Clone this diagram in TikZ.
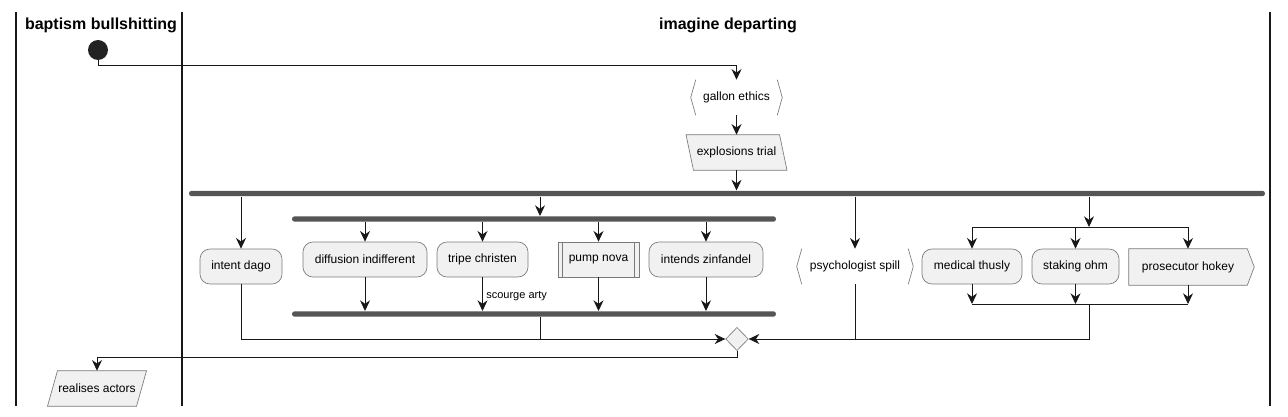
\documentclass[tikz,border=0pt]{standalone}
\usepackage{fontspec}
\setmainfont{Liberation Sans}
\usetikzlibrary{arrows.meta,shapes.geometric,backgrounds,calc}
\definecolor{boxfill}{HTML}{F1F1F1}
\definecolor{barcol}{HTML}{555555}
\definecolor{linecol}{HTML}{181818}
\definecolor{edgecol}{HTML}{7A7A7A}
\definecolor{startcol}{HTML}{222222}
\begin{document}
\begin{tikzpicture}[x=0.75pt,y=-0.75pt,
  every node/.style={font=\fontsize{9pt}{11pt}\selectfont, inner sep=0pt},
  flow/.style={draw=linecol, line width=0.75pt, -{Stealth[length=8pt,width=7.5pt,inset=2.6pt]}},
  plain/.style={draw=linecol, line width=0.75pt},
  rbox/.style={draw=edgecol, line width=0.5pt, fill=boxfill, rounded corners=7.5pt, minimum height=26.25pt},
  sbox/.style={minimum height=26.25pt},
  shapeline/.style={draw=edgecol, line width=0.5pt},
  shapefill/.style={draw=edgecol, line width=0.5pt, fill=boxfill},
  bar/.style={fill=barcol, rounded corners=2pt, minimum height=4.1pt},
  lane/.style={draw=linecol, line width=1.1pt},
  title/.style={font=\fontsize{12pt}{14pt}\selectfont\bfseries},
  lbl/.style={font=\fontsize{8.25pt}{10pt}\selectfont},
]
\useasboundingbox (0,0) rectangle (1288,417);

% swimlanes
\draw[lane] (16,12) -- (16,406);
\draw[lane] (182,12) -- (182,406);
\draw[lane] (1270,12) -- (1270,406);
\node[title] (t1) at (101,25) {baptism bullshitting};
\node[title] (t2) at (728,25) {imagine departing};

% start
\node[circle, fill=startcol, minimum size=15pt] (start) at (98,50) {};

% gallon ethics
\node[sbox, minimum width=68.25pt] (ge) at (736.5,97.5) {gallon ethics};
\draw[shapeline] ([xshift=3.75pt]ge.north west) -- (ge.west) -- ([xshift=3.75pt]ge.south west);
\draw[shapeline] ([xshift=-3.75pt]ge.north east) -- (ge.east) -- ([xshift=-3.75pt]ge.south east);

% explosions trial
\node[sbox, minimum width=69.75pt] (et) at (736.5,152.5) {explosions trial};
\begin{scope}[on background layer]
\draw[shapefill] ([xshift=-2.8pt]et.north west) -- ([xshift=-2.8pt]et.north east) -- ([xshift=2.8pt]et.south east) -- ([xshift=2.8pt]et.south west) -- cycle;
\end{scope}

% bars
\node[bar, minimum width=807pt] (b1) at (727,193.5) {};
\node[bar, minimum width=363pt] (b2) at (534,219) {};
\node[bar, minimum width=363pt] (b3) at (534,314) {};

% merge diamond
\node[diamond, draw=edgecol, line width=0.5pt, fill=boxfill, minimum width=17pt, minimum height=17.5pt] (dm) at (737,339) {};

% branch nodes
\node[rbox, minimum width=61.5pt] (id) at (241,266.5) {intent dago};
\node[rbox, minimum width=93pt] (di) at (365,259.5) {diffusion indifferent};
\node[rbox, minimum width=68.25pt] (tc) at (482.5,259.5) {tripe christen};
\node[shapefill, sbox, minimum width=60.75pt] (pn) at (598.5,259.5) {pump nova};
\draw[shapeline] ([xshift=3.75pt]pn.north west) -- ([xshift=3.75pt]pn.south west);
\draw[shapeline] ([xshift=-3.75pt]pn.north east) -- ([xshift=-3.75pt]pn.south east);
\node[rbox, minimum width=85.5pt] (iz) at (706,259.5) {intends zinfandel};

\node[sbox, minimum width=87pt] (ps) at (855,266.5) {psychologist spill};
\draw[shapeline] ([xshift=3.75pt]ps.north west) -- (ps.west) -- ([xshift=3.75pt]ps.south west);
\draw[shapeline] ([xshift=-3.75pt]ps.north east) -- (ps.east) -- ([xshift=-3.75pt]ps.south east);

\node[rbox, minimum width=75pt] (mt) at (972,266.5) {medical thusly};
\node[rbox, minimum width=65.25pt] (so) at (1075.5,266.5) {staking ohm};
\node[sbox, minimum width=88.5pt, minimum height=27pt] (ph) at (1188,267) {prosecutor hokey};
\begin{scope}[on background layer]
\draw[shapefill] (ph.north west) -- (ph.north east) -- ([xshift=5.25pt]ph.east) -- (ph.south east) -- (ph.south west) -- cycle;
\end{scope}

% end
\node[sbox, minimum width=66.4pt] (ra) at (97,388.5) {realises actors};
\begin{scope}[on background layer]
\draw[shapefill] ([xshift=3.75pt]ra.north west) -- ([xshift=3.75pt]ra.north east) -- ([xshift=-3.75pt]ra.south east) -- ([xshift=-3.75pt]ra.south west) -- cycle;
\end{scope}

% helper coordinates
\coordinate (f2) at (540,0);
\coordinate (f4) at (1089,227);
\coordinate (g4) at (1089,304);

% connectors
\draw[flow] (start.south) -- ++(0,5) -| (ge.north);
\draw[flow] (ge.south) -- (et.north);
\draw[flow] (et.south) -- (et.south |- b1.north);

\draw[flow] (id.north |- b1.south) -- (id.north);
\draw[flow] (f2 |- b1.south) -- (f2 |- b2.north);
\draw[flow] (ps.north |- b1.south) -- (ps.north);
\draw[flow] (f4 |- b1.south) -- (f4);

\draw[flow] (di.north |- b2.south) -- (di.north);
\draw[flow] (tc.north |- b2.south) -- (tc.north);
\draw[flow] (pn.north |- b2.south) -- (pn.north);
\draw[flow] (iz.north |- b2.south) -- (iz.north);

\draw[flow] (di.south) -- (di.south |- b3.north);
\draw[flow] (tc.south) -- node[lbl, pos=0.55, anchor=west, xshift=2.5pt] (sa) {scourge arty} (tc.south |- b3.north);
\draw[flow] (pn.south) -- (pn.south |- b3.north);
\draw[flow] (iz.south) -- (iz.south |- b3.north);

\draw[plain] (mt.north |- f4) -- (ph.north |- f4);
\draw[flow] (mt.north |- f4) -- (mt.north);
\draw[flow] (so.north |- f4) -- (so.north);
\draw[flow] (ph.north |- f4) -- (ph.north);
\draw[flow] (mt.south) -- (mt.south |- g4);
\draw[flow] (so.south) -- (so.south |- g4);
\draw[flow] (ph.south) -- (ph.south |- g4);
\draw[plain] (mt.south |- g4) -- (ph.south |- g4);

\draw[flow] (id.south) |- (dm.west);
\draw[plain] (f2 |- b3.south) -- (f2 |- dm.center);
\draw[plain] (ps.south) -- (ps.south |- dm.center);
\draw[flow] (g4) |- (dm.east);

\draw[flow] (dm.south) -- ++(0,6) -| (ra.north);
\end{tikzpicture}
\end{document}
